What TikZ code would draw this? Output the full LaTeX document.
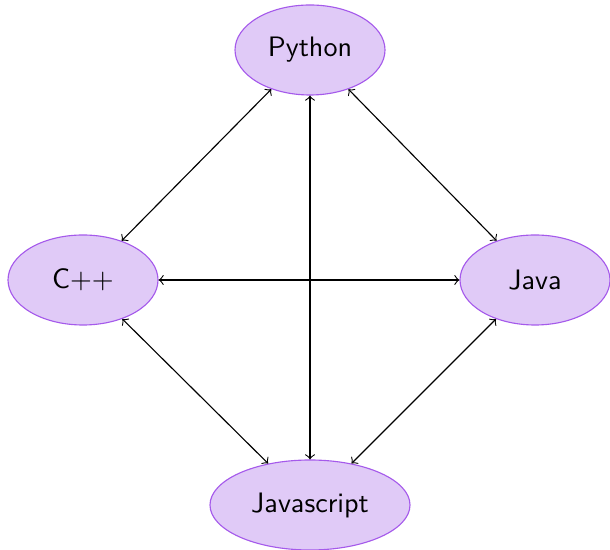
\documentclass[tikz,border=0pt]{standalone}
\usetikzlibrary{shapes.geometric}
\definecolor{langfill}{RGB}{224,202,247}
\definecolor{langdraw}{RGB}{165,90,235}
\tikzset{lang/.style={ellipse, draw=langdraw, fill=langfill, minimum width=1.875cm, minimum height=1.125cm, font=\sffamily}}
\begin{document}
\begin{tikzpicture}
    \useasboundingbox (0,0) rectangle (7.625,6.875);
    \node[lang] (python) at (3.875,6.25) {Python};
    \node[lang] (cpp) at (1.0375,3.375) {C++};
    \node[lang] (java) at (6.6875,3.375) {Java};
    \node[lang, minimum width=2.5cm] (js) at (3.875,0.5625) {Javascript};

    \draw[<->] (python) -- (cpp);
    \draw[<->] (python) -- (java);
    \draw[<->] (python) -- (js);
    \draw[<->] (cpp) -- (java);
    \draw[<->] (cpp) -- (js);
    \draw[<->] (java) -- (js);
\end{tikzpicture}
\end{document}
